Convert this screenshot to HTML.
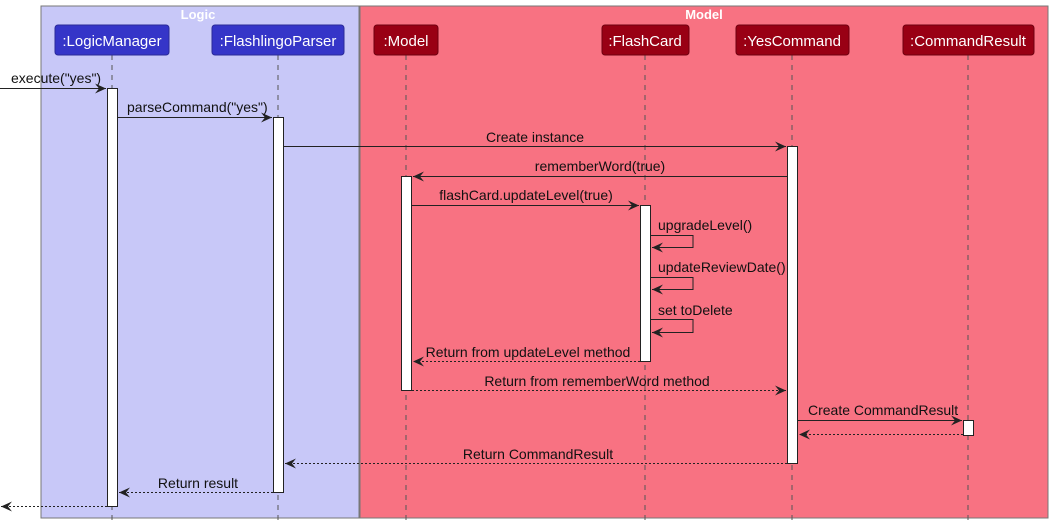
<!DOCTYPE html>
<html><head><meta charset="utf-8"><style>
html,body{margin:0;padding:0;background:#fff;width:1053px;height:530px;overflow:hidden}
svg text{font-family:"Liberation Sans",sans-serif;font-size:14px;fill:#111}
</style></head><body>
<svg width="1053" height="530" xmlns="http://www.w3.org/2000/svg">
<defs>
<marker id="a" markerWidth="12" markerHeight="10" refX="11" refY="5" orient="auto" markerUnits="userSpaceOnUse">
<path d="M0,0 L11,5 L0,10 L4,5 Z" fill="#222"/></marker>
</defs>
<rect x="41" y="6" width="318" height="512" fill="#c8c8f8" stroke="#777" stroke-width="1"/>
<rect x="360" y="6" width="688" height="512" fill="#f87282" stroke="#777" stroke-width="1"/>
<text x="198" y="19" text-anchor="middle" style="fill:#fff;font-weight:bold;font-size:13px">Logic</text>
<text x="704" y="19" text-anchor="middle" style="fill:#fff;font-weight:bold;font-size:13px">Model</text>
<g stroke="#555" stroke-dasharray="5,5" stroke-width="1">
<line x1="112" y1="55" x2="112" y2="524"/><line x1="278" y1="55" x2="278" y2="524"/>
<line x1="406" y1="55" x2="406" y2="524"/><line x1="645" y1="55" x2="645" y2="524"/>
<line x1="792" y1="55" x2="792" y2="524"/><line x1="968" y1="55" x2="968" y2="524"/>
</g>
<g>
<rect x="55" y="25" width="114" height="30" rx="3" fill="#3535c8" stroke="#2a2a99"/>
<rect x="212" y="25" width="132" height="30" rx="3" fill="#3535c8" stroke="#2a2a99"/>
<rect x="374" y="25" width="64" height="30" rx="3" fill="#990014" stroke="#700010"/>
<rect x="602" y="25" width="87" height="30" rx="3" fill="#990014" stroke="#700010"/>
<rect x="736" y="25" width="113" height="30" rx="3" fill="#990014" stroke="#700010"/>
<rect x="903" y="25" width="131" height="30" rx="3" fill="#990014" stroke="#700010"/>
</g>
<g text-anchor="middle">
<text x="112" y="46" style="fill:#fff;font-size:15px">:LogicManager</text>
<text x="278" y="46" style="fill:#fff;font-size:15px">:FlashlingoParser</text>
<text x="406" y="46" style="fill:#fff;font-size:15px">:Model</text>
<text x="645" y="46" style="fill:#fff;font-size:15px">:FlashCard</text>
<text x="792" y="46" style="fill:#fff;font-size:15px">:YesCommand</text>
<text x="968" y="46" style="fill:#fff;font-size:15px">:CommandResult</text>
</g>
<g fill="#fff" stroke="#222" stroke-width="1">
<rect x="107.5" y="88.5" width="10" height="418"/>
<rect x="273.5" y="117.5" width="10" height="375"/>
<rect x="787.5" y="146.5" width="10" height="317"/>
<rect x="401.5" y="176.5" width="10" height="214"/>
<rect x="640.5" y="205.5" width="10" height="156"/>
<rect x="963.5" y="420.5" width="10" height="15"/>
</g>
<g stroke="#222" stroke-width="1" fill="none">
<line x1="0" y1="88.5" x2="106" y2="88.5" marker-end="url(#a)"/>
<line x1="118" y1="117.5" x2="272" y2="117.5" marker-end="url(#a)"/>
<line x1="284" y1="146.5" x2="786" y2="146.5" marker-end="url(#a)"/>
<line x1="787" y1="176.5" x2="413" y2="176.5" marker-end="url(#a)"/>
<line x1="412" y1="205.5" x2="639" y2="205.5" marker-end="url(#a)"/>
<polyline points="651,235.5 693,235.5 693,247.5 652,247.5" marker-end="url(#a)"/>
<polyline points="651,277.5 693,277.5 693,289.5 652,289.5" marker-end="url(#a)"/>
<polyline points="651,319.5 693,319.5 693,332.5 652,332.5" marker-end="url(#a)"/>
<line x1="798" y1="420.5" x2="962" y2="420.5" marker-end="url(#a)"/>
<g stroke-dasharray="2,2">
<line x1="640" y1="361.5" x2="413" y2="361.5" marker-end="url(#a)"/>
<line x1="412" y1="390.5" x2="786" y2="390.5" marker-end="url(#a)"/>
<line x1="963" y1="434.5" x2="799" y2="434.5" marker-end="url(#a)"/>
<line x1="787" y1="463.5" x2="285" y2="463.5" marker-end="url(#a)"/>
<line x1="273" y1="492.5" x2="119" y2="492.5" marker-end="url(#a)"/>
<line x1="107" y1="506.5" x2="1" y2="506.5" marker-end="url(#a)"/>
</g>
</g>
<text x="11" y="83">execute("yes")</text>
<text x="127" y="112">parseCommand("yes")</text>
<text x="535" y="142" text-anchor="middle">Create instance</text>
<text x="600" y="171" text-anchor="middle">rememberWord(true)</text>
<text x="526" y="200" text-anchor="middle">flashCard.updateLevel(true)</text>
<text x="658" y="230">upgradeLevel()</text>
<text x="658" y="272">updateReviewDate()</text>
<text x="658" y="315">set toDelete</text>
<text x="528" y="357" text-anchor="middle">Return from updateLevel method</text>
<text x="597" y="386" text-anchor="middle">Return from rememberWord method</text>
<text x="808" y="415">Create CommandResult</text>
<text x="538" y="459" text-anchor="middle">Return CommandResult</text>
<text x="198" y="488" text-anchor="middle">Return result</text>
</svg>
</body></html>
